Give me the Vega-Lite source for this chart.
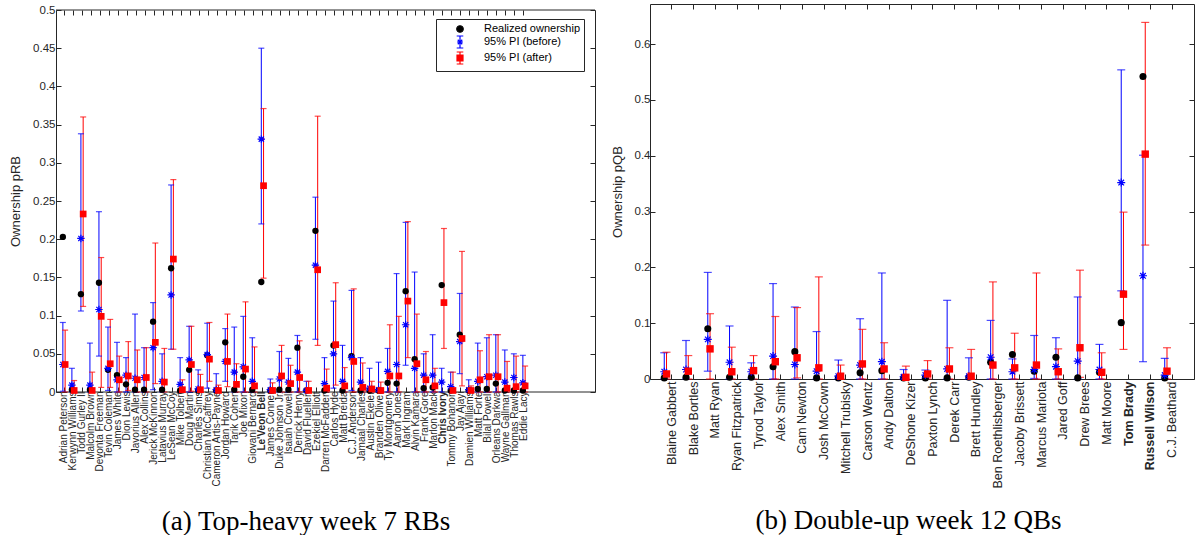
{
"$schema": "https://vega.github.io/schema/vega-lite/v6.json",
"background": "white",
"padding": {"left": 9, "top": 3, "right": 0, "bottom": 0},
"config": {
  "font": "Liberation Sans",
  "view": {"stroke": null},
  "axis": {"labelColor": "#262626", "tickColor": "#262626", "domainColor": "#262626", "titleColor": "#262626", "titleFontWeight": "normal", "grid": false, "labelFont": "Liberation Sans", "titleFont": "Liberation Sans", "tickWidth": 1, "domainWidth": 1},
  "title": {"font": "Liberation Serif", "fontSize": 27, "fontWeight": "normal", "color": "#000000"}
},
"datasets": {
"rb": [
{"n":"Adrian Peterson","s":"real","v":0.203},{"n":"Adrian Peterson","s":"before","v":0.036,"lo":0.001,"hi":0.091},{"n":"Adrian Peterson","s":"after","v":0.036,"lo":0,"hi":0.081},
{"n":"Kerwynn Williams","s":"real","v":0.003},{"n":"Kerwynn Williams","s":"before","v":0.009,"lo":0,"hi":0.031},{"n":"Kerwynn Williams","s":"after","v":0.002,"lo":0,"hi":0.015},
{"n":"Todd Gurley II","s":"real","v":0.128},{"n":"Todd Gurley II","s":"before","v":0.201,"lo":0.106,"hi":0.338},{"n":"Todd Gurley II","s":"after","v":0.233,"lo":0.112,"hi":0.36},
{"n":"Malcolm Brown","s":"real","v":0.003},{"n":"Malcolm Brown","s":"before","v":0.009,"lo":0,"hi":0.064},{"n":"Malcolm Brown","s":"after","v":0.002,"lo":0,"hi":0.026},
{"n":"Devonta Freeman","s":"real","v":0.143},{"n":"Devonta Freeman","s":"before","v":0.108,"lo":0.047,"hi":0.236},{"n":"Devonta Freeman","s":"after","v":0.099,"lo":0.006,"hi":0.176},
{"n":"Tevin Coleman","s":"real","v":0.029},{"n":"Tevin Coleman","s":"before","v":0.031,"lo":0.002,"hi":0.085},{"n":"Tevin Coleman","s":"after","v":0.037,"lo":0.006,"hi":0.095},
{"n":"James White","s":"real","v":0.022},{"n":"James White","s":"before","v":0.016,"lo":0,"hi":0.065},{"n":"James White","s":"after","v":0.016,"lo":0,"hi":0.047},
{"n":"Dion Lewis","s":"real","v":0.01},{"n":"Dion Lewis","s":"before","v":0.022,"lo":0,"hi":0.045},{"n":"Dion Lewis","s":"after","v":0.021,"lo":0.002,"hi":0.066},
{"n":"Javorius Allen","s":"real","v":0.003},{"n":"Javorius Allen","s":"before","v":0.018,"lo":0,"hi":0.102},{"n":"Javorius Allen","s":"after","v":0.016,"lo":0,"hi":0.055},
{"n":"Alex Collins","s":"real","v":0.003},{"n":"Alex Collins","s":"before","v":0.019,"lo":0,"hi":0.058},{"n":"Alex Collins","s":"after","v":0.019,"lo":0,"hi":0.058},
{"n":"Jerick McKinnon","s":"real","v":0.092},{"n":"Jerick McKinnon","s":"before","v":0.058,"lo":0.003,"hi":0.117},{"n":"Jerick McKinnon","s":"after","v":0.065,"lo":0.011,"hi":0.195},
{"n":"Latavius Murray","s":"real","v":0.003},{"n":"Latavius Murray","s":"before","v":0.014,"lo":0,"hi":0.05},{"n":"Latavius Murray","s":"after","v":0.013,"lo":0,"hi":0.057},
{"n":"LeSean McCoy","s":"real","v":0.162},{"n":"LeSean McCoy","s":"before","v":0.127,"lo":0.056,"hi":0.271},{"n":"LeSean McCoy","s":"after","v":0.174,"lo":0.056,"hi":0.278},
{"n":"Mike Tolbert","s":"real","v":0.002},{"n":"Mike Tolbert","s":"before","v":0.01,"lo":0,"hi":0.045},{"n":"Mike Tolbert","s":"after","v":0.003,"lo":0,"hi":0.016},
{"n":"Doug Martin","s":"real","v":0.029},{"n":"Doug Martin","s":"before","v":0.042,"lo":0,"hi":0.086},{"n":"Doug Martin","s":"after","v":0.036,"lo":0.001,"hi":0.086},
{"n":"Charles Sims","s":"real","v":0.002},{"n":"Charles Sims","s":"before","v":0.004,"lo":0,"hi":0.029},{"n":"Charles Sims","s":"after","v":0.003,"lo":0,"hi":0.023},
{"n":"Christian McCaffrey","s":"real","v":0.048},{"n":"Christian McCaffrey","s":"before","v":0.049,"lo":0.005,"hi":0.09},{"n":"Christian McCaffrey","s":"after","v":0.043,"lo":0.014,"hi":0.091},
{"n":"Cameron Artis-Payne","s":"real","v":0.002},{"n":"Cameron Artis-Payne","s":"before","v":0.003,"lo":0,"hi":0.024},{"n":"Cameron Artis-Payne","s":"after","v":0.002,"lo":0,"hi":0.009},
{"n":"Jordan Howard","s":"real","v":0.065},{"n":"Jordan Howard","s":"before","v":0.04,"lo":0.014,"hi":0.083},{"n":"Jordan Howard","s":"after","v":0.04,"lo":0.007,"hi":0.102},
{"n":"Tarik Cohen","s":"real","v":0.003},{"n":"Tarik Cohen","s":"before","v":0.026,"lo":0,"hi":0.085},{"n":"Tarik Cohen","s":"after","v":0.01,"lo":0,"hi":0.037},
{"n":"Joe Mixon","s":"real","v":0.02},{"n":"Joe Mixon","s":"before","v":0.033,"lo":0,"hi":0.099},{"n":"Joe Mixon","s":"after","v":0.03,"lo":0,"hi":0.118},
{"n":"Giovani Bernard","s":"real","v":0.003},{"n":"Giovani Bernard","s":"before","v":0.014,"lo":0,"hi":0.071},{"n":"Giovani Bernard","s":"after","v":0.008,"lo":0,"hi":0.059},
{"n":"Le'Veon Bell","s":"real","v":0.144},{"n":"Le'Veon Bell","s":"before","v":0.331,"lo":0.22,"hi":0.45},{"n":"Le'Veon Bell","s":"after","v":0.27,"lo":0.149,"hi":0.371},
{"n":"James Conner","s":"real","v":0.002},{"n":"James Conner","s":"before","v":0.003,"lo":0,"hi":0.017},{"n":"James Conner","s":"after","v":0.002,"lo":0,"hi":0.012},
{"n":"Duke Johnson Jr.","s":"real","v":0.003},{"n":"Duke Johnson Jr.","s":"before","v":0.017,"lo":0,"hi":0.053},{"n":"Duke Johnson Jr.","s":"after","v":0.021,"lo":0,"hi":0.061},
{"n":"Isaiah Crowell","s":"real","v":0.003},{"n":"Isaiah Crowell","s":"before","v":0.013,"lo":0,"hi":0.044},{"n":"Isaiah Crowell","s":"after","v":0.011,"lo":0,"hi":0.035},
{"n":"Derrick Henry","s":"real","v":0.058},{"n":"Derrick Henry","s":"before","v":0.026,"lo":0,"hi":0.074},{"n":"Derrick Henry","s":"after","v":0.019,"lo":0,"hi":0.067},
{"n":"David Fluellen","s":"real","v":0.002},{"n":"David Fluellen","s":"before","v":0.002,"lo":0,"hi":0.014},{"n":"David Fluellen","s":"after","v":0.002,"lo":0,"hi":0.014},
{"n":"Ezekiel Elliott","s":"real","v":0.211},{"n":"Ezekiel Elliott","s":"before","v":0.166,"lo":0.069,"hi":0.255},{"n":"Ezekiel Elliott","s":"after","v":0.16,"lo":0.061,"hi":0.361},
{"n":"Darren McFadden","s":"real","v":0.002},{"n":"Darren McFadden","s":"before","v":0.011,"lo":0,"hi":0.045},{"n":"Darren McFadden","s":"after","v":0.005,"lo":0,"hi":0.03},
{"n":"Carlos Hyde","s":"real","v":0.061},{"n":"Carlos Hyde","s":"before","v":0.05,"lo":0.005,"hi":0.119},{"n":"Carlos Hyde","s":"after","v":0.062,"lo":0.009,"hi":0.143},
{"n":"Matt Breida","s":"real","v":0.002},{"n":"Matt Breida","s":"before","v":0.014,"lo":0,"hi":0.061},{"n":"Matt Breida","s":"after","v":0.008,"lo":0,"hi":0.032},
{"n":"C.J. Anderson","s":"real","v":0.047},{"n":"C.J. Anderson","s":"before","v":0.045,"lo":0.002,"hi":0.133},{"n":"C.J. Anderson","s":"after","v":0.04,"lo":0,"hi":0.135},
{"n":"Jamaal Charles","s":"real","v":0.002},{"n":"Jamaal Charles","s":"before","v":0.013,"lo":0,"hi":0.045},{"n":"Jamaal Charles","s":"after","v":0.006,"lo":0,"hi":0.038},
{"n":"Austin Ekeler","s":"real","v":0.002},{"n":"Austin Ekeler","s":"before","v":0.005,"lo":0,"hi":0.031},{"n":"Austin Ekeler","s":"after","v":0.004,"lo":0,"hi":0.014},
{"n":"Branden Oliver","s":"real","v":0.002},{"n":"Branden Oliver","s":"before","v":0.003,"lo":0,"hi":0.039},{"n":"Branden Oliver","s":"after","v":0.002,"lo":0,"hi":0.013},
{"n":"Ty Montgomery","s":"real","v":0.012},{"n":"Ty Montgomery","s":"before","v":0.027,"lo":0,"hi":0.057},{"n":"Ty Montgomery","s":"after","v":0.021,"lo":0,"hi":0.088},
{"n":"Aaron Jones","s":"real","v":0.011},{"n":"Aaron Jones","s":"before","v":0.036,"lo":0,"hi":0.155},{"n":"Aaron Jones","s":"after","v":0.021,"lo":0,"hi":0.099},
{"n":"Mark Ingram","s":"real","v":0.132},{"n":"Mark Ingram","s":"before","v":0.088,"lo":0.035,"hi":0.222},{"n":"Mark Ingram","s":"after","v":0.119,"lo":0.045,"hi":0.223},
{"n":"Alvin Kamara","s":"real","v":0.043},{"n":"Alvin Kamara","s":"before","v":0.031,"lo":0,"hi":0.157},{"n":"Alvin Kamara","s":"after","v":0.037,"lo":0,"hi":0.102},
{"n":"Frank Gore","s":"real","v":0.005},{"n":"Frank Gore","s":"before","v":0.022,"lo":0,"hi":0.05},{"n":"Frank Gore","s":"after","v":0.016,"lo":0,"hi":0.053},
{"n":"Marlon Mack","s":"real","v":0.006},{"n":"Marlon Mack","s":"before","v":0.022,"lo":0,"hi":0.075},{"n":"Marlon Mack","s":"after","v":0.008,"lo":0,"hi":0.031},
{"n":"Chris Ivory","s":"real","v":0.14},{"n":"Chris Ivory","s":"before","v":0.013,"lo":0,"hi":0.031},{"n":"Chris Ivory","s":"after","v":0.117,"lo":0.057,"hi":0.214},
{"n":"Tommy Bohanon","s":"real","v":0.002},{"n":"Tommy Bohanon","s":"before","v":0.007,"lo":0,"hi":0.026},{"n":"Tommy Bohanon","s":"after","v":0.002,"lo":0,"hi":0.026},
{"n":"Jay Ajayi","s":"real","v":0.075},{"n":"Jay Ajayi","s":"before","v":0.066,"lo":0.024,"hi":0.129},{"n":"Jay Ajayi","s":"after","v":0.07,"lo":0.008,"hi":0.184},
{"n":"Damien Williams","s":"real","v":0.002},{"n":"Damien Williams","s":"before","v":0.003,"lo":0,"hi":0.016},{"n":"Damien Williams","s":"after","v":0.002,"lo":0,"hi":0.008},
{"n":"Matt Forte","s":"real","v":0.004},{"n":"Matt Forte","s":"before","v":0.014,"lo":0,"hi":0.064},{"n":"Matt Forte","s":"after","v":0.016,"lo":0,"hi":0.054},
{"n":"Bilal Powell","s":"real","v":0.004},{"n":"Bilal Powell","s":"before","v":0.02,"lo":0,"hi":0.071},{"n":"Bilal Powell","s":"after","v":0.02,"lo":0,"hi":0.075},
{"n":"Orleans Darkwa","s":"real","v":0.011},{"n":"Orleans Darkwa","s":"before","v":0.022,"lo":0,"hi":0.075},{"n":"Orleans Darkwa","s":"after","v":0.02,"lo":0,"hi":0.075},
{"n":"Wayne Gallman","s":"real","v":0.002},{"n":"Wayne Gallman","s":"before","v":0.013,"lo":0,"hi":0.055},{"n":"Wayne Gallman","s":"after","v":0.005,"lo":0,"hi":0.04},
{"n":"Thomas Rawls","s":"real","v":0.002},{"n":"Thomas Rawls","s":"before","v":0.019,"lo":0,"hi":0.05},{"n":"Thomas Rawls","s":"after","v":0.007,"lo":0,"hi":0.047},
{"n":"Eddie Lacy","s":"real","v":0.002},{"n":"Eddie Lacy","s":"before","v":0.012,"lo":0,"hi":0.048},{"n":"Eddie Lacy","s":"after","v":0.008,"lo":0,"hi":0.034}
],
"qb": [
{"n":"Blaine Gabbert","s":"real","v":0.002},{"n":"Blaine Gabbert","s":"before","v":0.013,"lo":0,"hi":0.047},{"n":"Blaine Gabbert","s":"after","v":0.009,"lo":0,"hi":0.048},
{"n":"Blake Bortles","s":"real","v":0.003},{"n":"Blake Bortles","s":"before","v":0.017,"lo":0,"hi":0.069},{"n":"Blake Bortles","s":"after","v":0.014,"lo":0,"hi":0.042},
{"n":"Matt Ryan","s":"real","v":0.09},{"n":"Matt Ryan","s":"before","v":0.071,"lo":0.014,"hi":0.191},{"n":"Matt Ryan","s":"after","v":0.054,"lo":0,"hi":0.117},
{"n":"Ryan Fitzpatrick","s":"real","v":0.003},{"n":"Ryan Fitzpatrick","s":"before","v":0.03,"lo":0,"hi":0.095},{"n":"Ryan Fitzpatrick","s":"after","v":0.013,"lo":0,"hi":0.057},
{"n":"Tyrod Taylor","s":"real","v":0.003},{"n":"Tyrod Taylor","s":"before","v":0.013,"lo":0,"hi":0.029},{"n":"Tyrod Taylor","s":"after","v":0.015,"lo":0,"hi":0.042},
{"n":"Alex Smith","s":"real","v":0.022},{"n":"Alex Smith","s":"before","v":0.041,"lo":0,"hi":0.171},{"n":"Alex Smith","s":"after","v":0.031,"lo":0,"hi":0.112},
{"n":"Cam Newton","s":"real","v":0.049},{"n":"Cam Newton","s":"before","v":0.026,"lo":0,"hi":0.129},{"n":"Cam Newton","s":"after","v":0.038,"lo":0.002,"hi":0.128},
{"n":"Josh McCown","s":"real","v":0.002},{"n":"Josh McCown","s":"before","v":0.014,"lo":0,"hi":0.085},{"n":"Josh McCown","s":"after","v":0.02,"lo":0,"hi":0.183},
{"n":"Mitchell Trubisky","s":"real","v":0.002},{"n":"Mitchell Trubisky","s":"before","v":0.005,"lo":0,"hi":0.034},{"n":"Mitchell Trubisky","s":"after","v":0.005,"lo":0,"hi":0.025},
{"n":"Carson Wentz","s":"real","v":0.011},{"n":"Carson Wentz","s":"before","v":0.025,"lo":0,"hi":0.108},{"n":"Carson Wentz","s":"after","v":0.027,"lo":0,"hi":0.089},
{"n":"Andy Dalton","s":"real","v":0.015},{"n":"Andy Dalton","s":"before","v":0.031,"lo":0,"hi":0.19},{"n":"Andy Dalton","s":"after","v":0.018,"lo":0,"hi":0.065},
{"n":"DeShone Kizer","s":"real","v":0.002},{"n":"DeShone Kizer","s":"before","v":0.004,"lo":0,"hi":0.017},{"n":"DeShone Kizer","s":"after","v":0.003,"lo":0,"hi":0.023},
{"n":"Paxton Lynch","s":"real","v":0.002},{"n":"Paxton Lynch","s":"before","v":0.007,"lo":0,"hi":0.016},{"n":"Paxton Lynch","s":"after","v":0.009,"lo":0,"hi":0.033},
{"n":"Derek Carr","s":"real","v":0.002},{"n":"Derek Carr","s":"before","v":0.018,"lo":0,"hi":0.141},{"n":"Derek Carr","s":"after","v":0.018,"lo":0,"hi":0.056},
{"n":"Brett Hundley","s":"real","v":0.003},{"n":"Brett Hundley","s":"before","v":0.005,"lo":0,"hi":0.038},{"n":"Brett Hundley","s":"after","v":0.005,"lo":0,"hi":0.053},
{"n":"Ben Roethlisberger","s":"real","v":0.03},{"n":"Ben Roethlisberger","s":"before","v":0.039,"lo":0,"hi":0.105},{"n":"Ben Roethlisberger","s":"after","v":0.025,"lo":0,"hi":0.174},
{"n":"Jacoby Brissett","s":"real","v":0.044},{"n":"Jacoby Brissett","s":"before","v":0.013,"lo":0,"hi":0.036},{"n":"Jacoby Brissett","s":"after","v":0.02,"lo":0,"hi":0.082},
{"n":"Marcus Mariota","s":"real","v":0.014},{"n":"Marcus Mariota","s":"before","v":0.017,"lo":0.001,"hi":0.078},{"n":"Marcus Mariota","s":"after","v":0.025,"lo":0,"hi":0.19},
{"n":"Jared Goff","s":"real","v":0.039},{"n":"Jared Goff","s":"before","v":0.022,"lo":0,"hi":0.074},{"n":"Jared Goff","s":"after","v":0.013,"lo":0,"hi":0.054},
{"n":"Drew Brees","s":"real","v":0.002},{"n":"Drew Brees","s":"before","v":0.032,"lo":0,"hi":0.147},{"n":"Drew Brees","s":"after","v":0.056,"lo":0.003,"hi":0.195},
{"n":"Matt Moore","s":"real","v":0.012},{"n":"Matt Moore","s":"before","v":0.017,"lo":0,"hi":0.062},{"n":"Matt Moore","s":"after","v":0.012,"lo":0,"hi":0.047},
{"n":"Tom Brady","s":"real","v":0.101},{"n":"Tom Brady","s":"before","v":0.352,"lo":0.158,"hi":0.554},{"n":"Tom Brady","s":"after","v":0.152,"lo":0.053,"hi":0.299},
{"n":"Russell Wilson","s":"real","v":0.542},{"n":"Russell Wilson","s":"before","v":0.185,"lo":0.031,"hi":0.401},{"n":"Russell Wilson","s":"after","v":0.403,"lo":0.24,"hi":0.639},
{"n":"C.J. Beathard","s":"real","v":0.002},{"n":"C.J. Beathard","s":"before","v":0.007,"lo":0,"hi":0.037},{"n":"C.J. Beathard","s":"after","v":0.014,"lo":0,"hi":0.056}
]
},
"spacing": 55,
"bounds": "flush",
"hconcat": [
{
  "width": 539, "height": 388,
  "data": {"name": "rb"},
  "title": {"text": "(a) Top-heavy week 7 RBs", "orient": "bottom", "anchor": "middle", "offset": 22, "dx": -19.5},
  "resolve": {"axis": {"x": "independent", "y": "independent"}},
  "layer": [
    {"data": {"values": [{}]}, "mark": {"type": "rule", "color": "#262626", "strokeWidth": 1}, "encoding": {"y": {"datum": 0, "type": "quantitative", "axis": null}}},
    {"data": {"values": [{}]}, "mark": {"type": "rule", "color": "#262626", "strokeWidth": 1}, "encoding": {"y": {"datum": 0.5, "type": "quantitative", "axis": null}}},
    {
      "transform": [{"filter": "datum.s != 'real'"}],
      "mark": {"type": "rule", "strokeWidth": 1},
      "encoding": {
        "x": {"field": "n", "type": "nominal", "sort": null, "scale": {"range": [0, 476], "paddingInner": 0, "paddingOuter": 0.387},
              "axis": {"orient": "bottom", "title": null, "domain": false, "tickSize": -5, "labelAngle": -90, "labelAlign": "right", "labelBaseline": "middle", "labelFontSize": 10, "labelPadding": 4, "labelOverlap": false, "labelBound": false, "labelLimit": 300,
                       "labelFontWeight": {"condition": {"test": "indexof(datum.label, 'Veon') >= 0 || datum.label == 'Chris Ivory'", "value": "bold"}, "value": "normal"}}},
        "xOffset": {"field": "s", "type": "nominal", "scale": {"domain": ["before", "after"], "paddingInner": 0, "paddingOuter": 1.5}},
        "y": {"field": "lo", "type": "quantitative", "scale": {"domain": [0, 0.5], "range": [388, 6], "nice": false},
              "axis": {"orient": "left", "title": "Ownership pRB", "titleFontSize": 13, "titlePadding": 10, "values": [0,0.05,0.1,0.15,0.2,0.25,0.3,0.35,0.4,0.45,0.5], "format": "~g", "labelFontSize": 11.5, "tickSize": -5, "labelPadding": 6, "domain": true}},
        "y2": {"field": "hi"},
        "color": {"field": "s", "type": "nominal", "scale": {"domain": ["before", "after"], "range": ["#0000ff", "#ff0000"]}, "legend": null}
      }
    },
    {
      "transform": [{"filter": "datum.s != 'real'"}],
      "mark": {"type": "tick", "size": 6, "thickness": 1.2},
      "encoding": {
        "x": {"field": "n", "type": "nominal", "sort": null, "axis": null},
        "xOffset": {"field": "s", "type": "nominal"},
        "y": {"field": "hi", "type": "quantitative", "axis": null},
        "color": {"field": "s", "type": "nominal", "legend": null}
      }
    },
    {
      "transform": [{"filter": "datum.s != 'real'"}],
      "mark": {"type": "tick", "size": 6, "thickness": 1.2},
      "encoding": {
        "x": {"field": "n", "type": "nominal", "sort": null, "axis": {"orient": "top", "title": null, "labels": false, "domain": false, "tickSize": -5, "offset": -6}},
        "xOffset": {"field": "s", "type": "nominal"},
        "y": {"field": "lo", "type": "quantitative", "axis": {"orient": "right", "title": null, "labels": false, "values": [0,0.05,0.1,0.15,0.2,0.25,0.3,0.35,0.4,0.45,0.5], "tickSize": -5, "domain": true}},
        "color": {"field": "s", "type": "nominal", "legend": null}
      }
    },
    {
      "transform": [{"filter": "datum.s == 'real'"}],
      "mark": {"type": "point", "shape": "circle", "filled": true, "color": "#000000", "size": 40, "opacity": 1},
      "encoding": {
        "x": {"field": "n", "type": "nominal", "sort": null, "axis": null},
        "xOffset": {"datum": "before", "type": "nominal"},
        "y": {"field": "v", "type": "quantitative", "axis": null}
      }
    },
    {
      "transform": [{"filter": "datum.s == 'before'"}],
      "mark": {"type": "point", "shape": "M-1,0H1M0,-1V1M-0.7,-0.7L0.7,0.7M-0.7,0.7L0.7,-0.7", "filled": false, "stroke": "#0000ff", "strokeWidth": 1.2, "size": 55, "opacity": 1},
      "encoding": {
        "x": {"field": "n", "type": "nominal", "sort": null, "axis": null},
        "xOffset": {"field": "s", "type": "nominal"},
        "y": {"field": "v", "type": "quantitative", "axis": null}
      }
    },
    {
      "transform": [{"filter": "datum.s == 'after'"}],
      "mark": {"type": "point", "shape": "square", "filled": true, "color": "#ff0000", "size": 45, "opacity": 1},
      "encoding": {
        "x": {"field": "n", "type": "nominal", "sort": null, "axis": null},
        "xOffset": {"field": "s", "type": "nominal"},
        "y": {"field": "v", "type": "quantitative", "axis": null}
      }
    },
    {
      "transform": [{"filter": "false"}],
      "mark": {"type": "point", "filled": true, "strokeWidth": 1.2, "opacity": 1},
      "encoding": {
        "shape": {"field": "s", "type": "nominal", "scale": {"domain": ["real", "before", "after"], "range": ["M-0.65,0A0.65,0.65,0,1,1,0.65,0A0.65,0.65,0,1,1,-0.65,0Z", "M0,-1.2V1.2M-0.66,-1.2H0.66M-0.66,1.2H0.66M-0.6,0H0.6M-0.45,-0.45L0.45,0.45M-0.45,0.45L0.45,-0.45", "M0,-1.2V1.2M-0.66,-1.2H0.66M-0.66,1.2H0.66M-0.6,-0.6H0.6V0.6H-0.6Z"]},
                  "legend": {"title": null, "orient": "none", "legendX": 380, "legendY": 15, "padding": 4, "rowPadding": -2, "symbolSize": 100, "symbolStrokeWidth": 1.2, "symbolOffset": 14, "labelOffset": 18, "labelFontSize": 11, "labelColor": "#000000", "strokeColor": "#262626", "fillColor": "#ffffff",
                             "labelExpr": "datum.label == 'real' ? 'Realized ownership' : datum.label == 'before' ? '95% PI (before)' : '95% PI (after)'"}},
        "fill": {"field": "s", "type": "nominal", "scale": {"domain": ["real", "before", "after"], "range": ["#000000", "#0000ff", "#ff0000"]},
                  "legend": {"title": null, "orient": "none", "legendX": 380, "legendY": 15, "padding": 4, "rowPadding": -2, "symbolSize": 100, "symbolStrokeWidth": 1.2, "symbolOffset": 14, "labelOffset": 18, "labelFontSize": 11, "labelColor": "#000000", "strokeColor": "#262626", "fillColor": "#ffffff",
                             "labelExpr": "datum.label == 'real' ? 'Realized ownership' : datum.label == 'before' ? '95% PI (before)' : '95% PI (after)'"}},
        "stroke": {"field": "s", "type": "nominal", "scale": {"domain": ["real", "before", "after"], "range": ["#000000", "#0000ff", "#ff0000"]},
                  "legend": {"title": null, "orient": "none", "legendX": 380, "legendY": 15, "padding": 4, "rowPadding": -2, "symbolSize": 100, "symbolStrokeWidth": 1.2, "symbolOffset": 14, "labelOffset": 18, "labelFontSize": 11, "labelColor": "#000000", "strokeColor": "#262626", "fillColor": "#ffffff",
                             "labelExpr": "datum.label == 'real' ? 'Realized ownership' : datum.label == 'before' ? '95% PI (before)' : '95% PI (after)'"}}
      }
    }
  ]
},
{
  "width": 544, "height": 375,
  "data": {"name": "qb"},
  "view": {"stroke": "#262626", "strokeWidth": 1},
  "title": {"text": "(b) Double-up week 12 QBs", "orient": "bottom", "anchor": "middle", "offset": 19.5, "dx": -13.5},
  "resolve": {"axis": {"x": "independent", "y": "independent"}},
  "layer": [
    {
      "transform": [{"filter": "datum.s != 'real'"}],
      "mark": {"type": "rule", "strokeWidth": 1},
      "encoding": {
        "x": {"field": "n", "type": "nominal", "sort": null, "scale": {"paddingInner": 0, "paddingOuter": 0.5},
              "axis": {"orient": "bottom", "title": null, "domain": false, "tickSize": -5, "labelAngle": -90, "labelAlign": "right", "labelBaseline": "middle", "labelFontSize": 12.5, "labelPadding": 7, "labelOverlap": false, "labelBound": false, "labelLimit": 300,
                       "labelFontWeight": {"condition": {"test": "datum.label == 'Tom Brady' || datum.label == 'Russell Wilson'", "value": "bold"}, "value": "normal"}}},
        "xOffset": {"field": "s", "type": "nominal", "scale": {"domain": ["before", "after"], "paddingInner": 0, "paddingOuter": 1.42}},
        "y": {"field": "lo", "type": "quantitative", "scale": {"domain": [0, 0.672], "nice": false},
              "axis": {"orient": "left", "title": "Ownership pQB", "titleFontSize": 13, "titlePadding": 10, "values": [0,0.1,0.2,0.3,0.4,0.5,0.6], "format": "~g", "labelFontSize": 11.5, "tickSize": -5, "labelPadding": 5, "domain": false}},
        "y2": {"field": "hi"},
        "color": {"field": "s", "type": "nominal", "scale": {"domain": ["before", "after"], "range": ["#0000ff", "#ff0000"]}, "legend": null}
      }
    },
    {
      "transform": [{"filter": "datum.s != 'real'"}],
      "mark": {"type": "tick", "size": 8, "thickness": 1.2},
      "encoding": {
        "x": {"field": "n", "type": "nominal", "sort": null, "axis": null},
        "xOffset": {"field": "s", "type": "nominal"},
        "y": {"field": "hi", "type": "quantitative", "axis": null},
        "color": {"field": "s", "type": "nominal", "legend": null}
      }
    },
    {
      "transform": [{"filter": "datum.s != 'real'"}],
      "mark": {"type": "tick", "size": 8, "thickness": 1.2},
      "encoding": {
        "x": {"field": "n", "type": "nominal", "sort": null, "axis": {"orient": "top", "title": null, "labels": false, "domain": false, "tickSize": -5}},
        "xOffset": {"field": "s", "type": "nominal"},
        "y": {"field": "lo", "type": "quantitative", "axis": {"orient": "right", "title": null, "labels": false, "values": [0,0.1,0.2,0.3,0.4,0.5,0.6], "tickSize": -5, "domain": false}},
        "color": {"field": "s", "type": "nominal", "legend": null}
      }
    },
    {
      "transform": [{"filter": "datum.s == 'real'"}],
      "mark": {"type": "point", "shape": "circle", "filled": true, "color": "#000000", "size": 50, "opacity": 1},
      "encoding": {
        "x": {"field": "n", "type": "nominal", "sort": null, "axis": null},
        "xOffset": {"datum": "before", "type": "nominal"},
        "y": {"field": "v", "type": "quantitative", "axis": null}
      }
    },
    {
      "transform": [{"filter": "datum.s == 'before'"}],
      "mark": {"type": "point", "shape": "M-1,0H1M0,-1V1M-0.7,-0.7L0.7,0.7M-0.7,0.7L0.7,-0.7", "filled": false, "stroke": "#0000ff", "strokeWidth": 1.2, "size": 64, "opacity": 1},
      "encoding": {
        "x": {"field": "n", "type": "nominal", "sort": null, "axis": null},
        "xOffset": {"field": "s", "type": "nominal"},
        "y": {"field": "v", "type": "quantitative", "axis": null}
      }
    },
    {
      "transform": [{"filter": "datum.s == 'after'"}],
      "mark": {"type": "point", "shape": "square", "filled": true, "color": "#ff0000", "size": 55, "opacity": 1},
      "encoding": {
        "x": {"field": "n", "type": "nominal", "sort": null, "axis": null},
        "xOffset": {"field": "s", "type": "nominal"},
        "y": {"field": "v", "type": "quantitative", "axis": null}
      }
    },
    {
      "transform": [{"filter": "false"}],
      "mark": {"type": "point", "filled": true, "strokeWidth": 1.2, "opacity": 1},
      "encoding": {
        "shape": {"field": "s", "type": "nominal", "scale": {"domain": ["real", "before", "after"], "range": ["M-0.65,0A0.65,0.65,0,1,1,0.65,0A0.65,0.65,0,1,1,-0.65,0Z", "M0,-1.2V1.2M-0.66,-1.2H0.66M-0.66,1.2H0.66M-0.6,0H0.6M-0.45,-0.45L0.45,0.45M-0.45,0.45L0.45,-0.45", "M0,-1.2V1.2M-0.66,-1.2H0.66M-0.66,1.2H0.66M-0.6,-0.6H0.6V0.6H-0.6Z"]},
                  "legend": {"title": null, "orient": "none", "legendX": 10, "legendY": 10, "padding": 4, "rowPadding": -2, "symbolSize": 100, "symbolStrokeWidth": 1.2, "symbolOffset": 14, "labelOffset": 18, "labelFontSize": 11, "labelColor": "#000000", "strokeColor": "#262626", "fillColor": "#ffffff",
                             "labelExpr": "datum.label == 'real' ? 'Realized ownership' : datum.label == 'before' ? '95% PI (before)' : '95% PI (after)'"}},
        "fill": {"field": "s", "type": "nominal", "scale": {"domain": ["real", "before", "after"], "range": ["#000000", "#0000ff", "#ff0000"]},
                  "legend": {"title": null, "orient": "none", "legendX": 10, "legendY": 10, "padding": 4, "rowPadding": -2, "symbolSize": 100, "symbolStrokeWidth": 1.2, "symbolOffset": 14, "labelOffset": 18, "labelFontSize": 11, "labelColor": "#000000", "strokeColor": "#262626", "fillColor": "#ffffff",
                             "labelExpr": "datum.label == 'real' ? 'Realized ownership' : datum.label == 'before' ? '95% PI (before)' : '95% PI (after)'"}},
        "stroke": {"field": "s", "type": "nominal", "scale": {"domain": ["real", "before", "after"], "range": ["#000000", "#0000ff", "#ff0000"]},
                  "legend": {"title": null, "orient": "none", "legendX": 10, "legendY": 10, "padding": 4, "rowPadding": -2, "symbolSize": 100, "symbolStrokeWidth": 1.2, "symbolOffset": 14, "labelOffset": 18, "labelFontSize": 11, "labelColor": "#000000", "strokeColor": "#262626", "fillColor": "#ffffff",
                             "labelExpr": "datum.label == 'real' ? 'Realized ownership' : datum.label == 'before' ? '95% PI (before)' : '95% PI (after)'"}}
      }
    }
  ]
}
]
}
